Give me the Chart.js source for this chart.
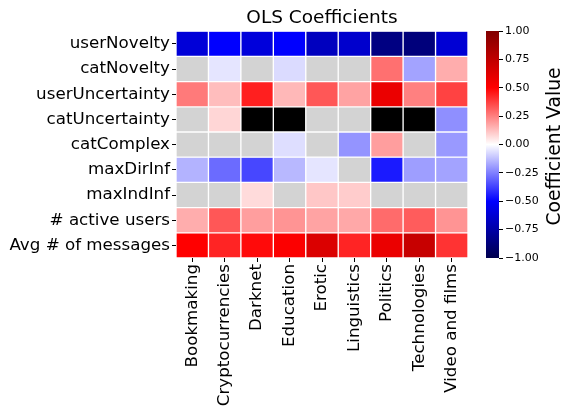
<!DOCTYPE html>
<html>
<head>
<meta charset="utf-8">
<script src="https://cdn.jsdelivr.net/npm/chart.js@4/dist/chart.umd.min.js"></script>
<style>
  body { margin: 0; background: #fff; }
  #wrap { position: relative; width: 563px; height: 412px; }
  #heat { position: absolute; left: 0; top: 0; }
  #cbar { position: absolute; left: 476px; top: 0; }
</style>
</head>
<body>
<div id="wrap">
  <canvas id="heat" width="563" height="412"></canvas>
  <canvas id="cbar" width="87" height="412"></canvas>
</div>
<script>
// Categories (columns) and features (rows)
const categories = ['Bookmaking', 'Cryptocurrencies', 'Darknet', 'Education', 'Erotic',
  'Linguistics', 'Politics', 'Technologies', 'Video and films'];
const features = ['userNovelty', 'catNovelty', 'userUncertainty', 'catUncertainty', 'catComplex',
  'maxDirInf', 'maxIndInf', '# active users', 'Avg # of messages'];

// Coefficients per feature, one value per category
// null = not significant (grey), NaN = undefined (black)
const userNovelty       = [-0.61, -0.50, -0.60, -0.50, -0.68, -0.64, -0.85, -0.87, -0.62];
const catNovelty        = [null, -0.05, null, -0.07, null, null, 0.28, -0.18, 0.16];
const userUncertainty   = [0.26, 0.13, 0.44, 0.14, 0.33, 0.18, 0.58, 0.25, 0.37];
const catUncertainty    = [null, 0.08, NaN, NaN, null, null, NaN, NaN, -0.22];
const catComplex        = [null, null, null, -0.065, null, -0.21, 0.19, null, -0.20];
const maxDirInf         = [-0.15, -0.29, -0.36, -0.14, -0.05, null, -0.45, -0.19, -0.18];
const maxIndInf         = [null, null, 0.07, null, 0.11, 0.10, null, null, null];
const activeUsers       = [0.16, 0.33, 0.19, 0.21, 0.18, 0.17, 0.29, 0.32, 0.21];
const avgMessages       = [0.50, 0.43, 0.48, 0.51, 0.64, 0.43, 0.58, 0.72, 0.40];

const rows = [userNovelty, catNovelty, userUncertainty, catUncertainty, catComplex,
  maxDirInf, maxIndInf, activeUsers, avgMessages];

const cbarTicks = [-1, -0.75, -0.5, -0.25, 0, 0.25, 0.5, 0.75, 1];

// matplotlib "seismic" colormap
const seismicStops = [[0, 0, 76.5], [0, 0, 255], [255, 255, 255], [255, 0, 0], [127.5, 0, 0]];
function seismic(v) {
  if (v === null) return '#d3d3d3';
  if (Number.isNaN(v)) return '#000000';
  v = Math.max(-1, Math.min(1, v));
  const t = (v + 1) / 2 * 4;
  const i = Math.min(3, Math.floor(t));
  const f = t - i;
  const a = seismicStops[i], b = seismicStops[i + 1];
  const c = a.map((x, k) => Math.round(x + (b[k] - x) * f));
  return `rgb(${c[0]},${c[1]},${c[2]})`;
}

const font = 'DejaVu Sans';
Chart.defaults.font.family = font;
Chart.defaults.color = '#000';

new Chart(document.getElementById('heat').getContext('2d'), {
  type: 'bar',
  data: {
    labels: categories,
    datasets: rows.map((vals, r) => ({
      label: features[r],
      data: categories.map(() => 1),
      backgroundColor: vals.map(seismic),
      borderColor: '#fff',
      borderWidth: 1,
      borderSkipped: false,
      barPercentage: 1,
      categoryPercentage: 1,
      stack: 'cells'
    }))
  },
  options: {
    responsive: false,
    animation: false,
    layout: { padding: { right: 95 } },
    plugins: {
      legend: { display: false },
      tooltip: { enabled: false },
      title: {
        display: true,
        text: 'OLS Coefficients',
        fullSize: false,
        font: { size: 18.5, weight: 'normal' },
        color: '#000',
        padding: { top: 7, bottom: 2 }
      }
    },
    scales: {
      x: {
        stacked: true,
        grid: { offset: false, drawOnChartArea: false, tickLength: 4, tickColor: '#000' },
        border: { display: false },
        ticks: { autoSkip: false, maxRotation: 90, minRotation: 90, padding: 2, font: { size: 16.7 } },
        afterFit: s => { s.height = 154; }
      },
      y: {
        stacked: true,
        reverse: true,
        min: 0,
        max: rows.length,
        grid: { drawOnChartArea: false, tickLength: 4, tickColor: '#000' },
        border: { display: false },
        afterBuildTicks: s => { s.ticks = features.map((f, i) => ({ value: i + 0.5 })); },
        ticks: { padding: 2, font: { size: 16.7 }, callback: (v, i) => features[i] },
        afterFit: s => { s.width = 176; }
      }
    }
  }
});

// Colour bar
const cbarTitle = {
  id: 'cbarTitle',
  afterDraw(chart) {
    const { ctx, chartArea } = chart;
    ctx.save();
    ctx.translate(79, (chartArea.top + chartArea.bottom) / 2 + 2);
    ctx.rotate(-Math.PI / 2);
    ctx.font = `18.8px "${font}"`;
    ctx.fillStyle = '#000';
    ctx.textAlign = 'center';
    ctx.textBaseline = 'middle';
    ctx.fillText('Coefficient Value', 0, 0);
    ctx.restore();
  }
};

new Chart(document.getElementById('cbar').getContext('2d'), {
  type: 'bar',
  data: {
    labels: ['cbar'],
    datasets: [{
      data: [[cbarTicks[0], cbarTicks[cbarTicks.length - 1]]],
      barPercentage: 1,
      categoryPercentage: 1,
      borderWidth: 0,
      backgroundColor: c => {
        const area = c.chart.chartArea;
        if (!area) return '#fff';
        const g = c.chart.ctx.createLinearGradient(0, area.bottom, 0, area.top);
        seismicStops.forEach((s, i) => g.addColorStop(i / 4, `rgb(${s.map(Math.round).join(',')})`));
        return g;
      }
    }]
  },
  options: {
    responsive: false,
    animation: false,
    layout: { padding: { top: 31, bottom: 154, left: 10, right: 24 } },
    plugins: { legend: { display: false }, tooltip: { enabled: false } },
    scales: {
      x: { display: false },
      y: {
        position: 'right',
        min: -1,
        max: 1,
        grid: { drawOnChartArea: false, tickLength: 4, tickColor: '#000' },
        border: { display: false },
        afterBuildTicks: s => { s.ticks = cbarTicks.map(v => ({ value: v })); },
        ticks: {
          padding: 2,
          font: { size: 11 },
          callback: v => (v < 0 ? '\u2212' : '') + Math.abs(v).toFixed(2)
        },
        afterFit: s => { s.width = 40; }
      }
    }
  },
  plugins: [cbarTitle]
});
</script>
</body>
</html>
